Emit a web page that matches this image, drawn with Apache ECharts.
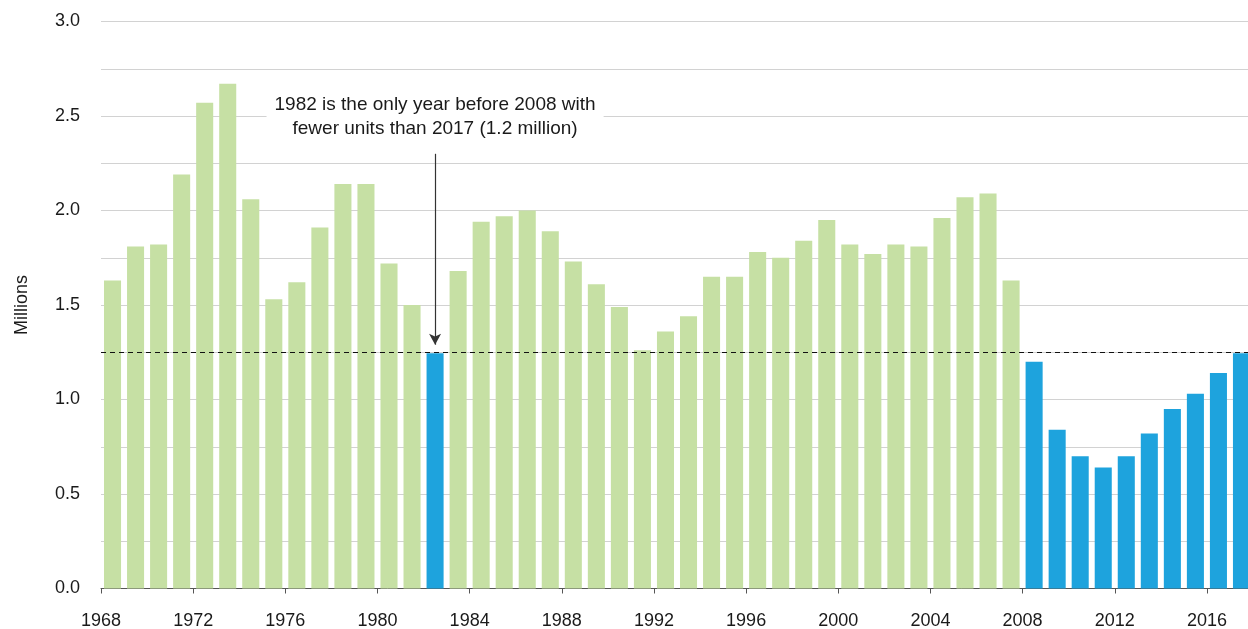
<!DOCTYPE html>
<html>
<head>
<meta charset="utf-8">
<script src="https://cdn.jsdelivr.net/npm/echarts@6/dist/echarts.min.js"></script>
<style>
  html, body { margin: 0; padding: 0; background: #ffffff; }
  #chart { width: 1248px; height: 629px; }
</style>
</head>
<body>
<div id="chart"></div>
<script>
// ---- data ----
const years = [
  1968, 1969, 1970, 1971, 1972, 1973, 1974, 1975, 1976, 1977,
  1978, 1979, 1980, 1981, 1982, 1983, 1984, 1985, 1986, 1987,
  1988, 1989, 1990, 1991, 1992, 1993, 1994, 1995, 1996, 1997,
  1998, 1999, 2000, 2001, 2002, 2003, 2004, 2005, 2006, 2007,
  2008, 2009, 2010, 2011, 2012, 2013, 2014, 2015, 2016, 2017
];
const units = [
  1.63, 1.81, 1.82, 2.19, 2.57, 2.67, 2.06, 1.53, 1.62, 1.91,
  2.14, 2.14, 1.72, 1.50, 1.245, 1.68, 1.94, 1.97, 2.00, 1.89,
  1.73, 1.61, 1.49, 1.26, 1.36, 1.44, 1.65, 1.65, 1.78, 1.75,
  1.84, 1.95, 1.82, 1.77, 1.82, 1.81, 1.96, 2.07, 2.09, 1.63,
  1.20, 0.84, 0.70, 0.64, 0.70, 0.82, 0.95, 1.03, 1.14, 1.245
];
const highlightYears = [1982, 2008, 2009, 2010, 2011, 2012, 2013, 2014, 2015, 2016, 2017];
const yTickLabels = ['0.0', '0.5', '1.0', '1.5', '2.0', '2.5', '3.0'];
const referenceYear = 2017;
const annotatedYear = 1982;
const annotationText = '1982 is the only year before 2008 with\nfewer units than 2017 (1.2 million)';
const arrowFrom = 2.30;
const arrowTo = 1.29;

const GREEN = '#c6e0a4';
const BLUE = '#1ea3dd';
const FONT = 'Liberation Sans, Arial, Helvetica, sans-serif';

const refValue = units[years.indexOf(referenceYear)];

const chart = echarts.init(document.getElementById('chart'), null, { renderer: 'canvas' });

const option = {
  animation: false,
  backgroundColor: '#ffffff',
  grid: {
    left: 101, width: 1152, top: 21.5, bottom: 40.5,
    containLabel: false,
    outerBoundsMode: 'none'
  },
  xAxis: [
    {
      type: 'category',
      data: years.map(String),
      boundaryGap: true,
      show: false,
      position: 'top'
    },
    {
      type: 'value',
      min: 1968,
      max: 2018,
      interval: 4,
      position: 'bottom',
      axisLine: { show: true, lineStyle: { color: '#555555', width: 1 } },
      axisTick: { show: true, length: 5, lineStyle: { color: '#555555' } },
      splitLine: { show: false },
      axisLabel: {
        show: true,
        margin: 24,
        color: '#1a1a1a',
        fontFamily: FONT,
        fontSize: 18,
        showMaxLabel: false,
        formatter: v => String(v)
      }
    }
  ],
  yAxis: {
    type: 'value',
    min: 0,
    max: 3,
    interval: 0.25,
    name: 'Millions',
    nameLocation: 'middle',
    nameGap: 70,
    nameRotate: 90,
    nameTextStyle: { color: '#1a1a1a', fontFamily: FONT, fontSize: 18 },
    axisLine: { show: false },
    axisTick: { show: false },
    splitLine: { show: true, lineStyle: { color: '#d2d2d2', width: 1 } },
    axisLabel: {
      margin: 21,
      color: '#1a1a1a',
      fontFamily: FONT,
      fontSize: 18,
      formatter: v => {
        const idx = Math.round(v / 0.5);
        return Math.abs(v - idx * 0.5) < 1e-9 ? yTickLabels[idx] : '';
      }
    }
  },
  series: [
    {
      type: 'bar',
      xAxisIndex: 0,
      yAxisIndex: 0,
      barCategoryGap: '26%',
      data: units.map((v, i) => ({
        value: v,
        itemStyle: { color: highlightYears.includes(years[i]) ? BLUE : GREEN }
      })),
      markLine: {
        silent: true,
        animation: false,
        z: 10,
        symbol: ['none', 'none'],
        data: [
          {
            yAxis: refValue,
            lineStyle: { type: [5, 4], color: '#111111', width: 1.2 },
            label: { show: false }
          },
          [
            {
              coord: [String(annotatedYear), arrowFrom],
              symbol: 'none',
              lineStyle: { type: 'solid', color: '#333333', width: 1.2 },
              label: {
                show: true,
                position: 'start',
                distance: 11,
                formatter: annotationText,
                color: '#1a1a1a',
                fontFamily: FONT,
                fontSize: 19,
                lineHeight: 24,
                align: 'center',
                backgroundColor: '#ffffff',
                padding: [2, 8, 2, 8]
              }
            },
            {
              coord: [String(annotatedYear), arrowTo],
              symbol: 'arrow',
              symbolSize: [9, 11]
            }
          ]
        ]
      }
    }
  ]
};

chart.setOption(option);
</script>
</body>
</html>
